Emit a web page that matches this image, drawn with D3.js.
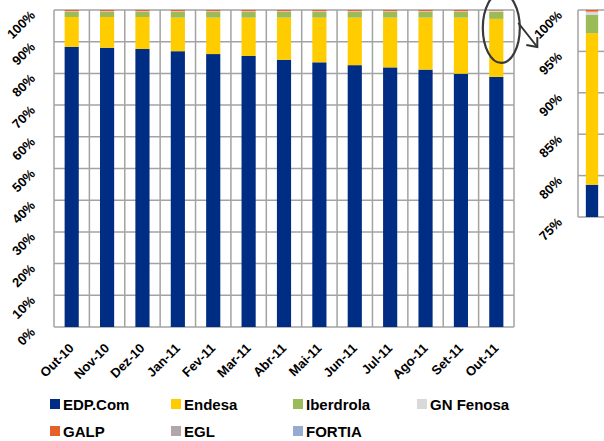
<!DOCTYPE html>
<html>
<head>
<meta charset="utf-8">
<script src="https://cdnjs.cloudflare.com/ajax/libs/d3/7.8.5/d3.min.js"></script>
<style>
  body { margin: 0; background: #fff; }
  svg { display: block; font-family: "Liberation Sans", Arial, sans-serif; }
</style>
</head>
<body>
<div id="chart"></div>
<script>
// categories and series (% share)
let months = ["Out-10", "Nov-10", "Dez-10", "Jan-11", "Fev-11", "Mar-11", "Abr-11",
              "Mai-11", "Jun-11", "Jul-11", "Ago-11", "Set-11", "Out-11"];
let edp       = [88.4, 88.1, 87.7, 87.0, 86.1, 85.5, 84.3, 83.5, 82.6, 81.9, 81.2, 79.9, 78.9];
let endesa    = [9.4, 9.7, 10.1, 10.6, 11.5, 12.1, 13.3, 14.1, 15.0, 15.7, 16.4, 17.7, 18.3];
let iberdrola = [1.6, 1.6, 1.6, 1.8, 1.8, 1.8, 1.8, 1.8, 1.8, 1.8, 1.8, 1.8, 2.2];
let gnFenosa  = [0.2, 0.2, 0.2, 0.2, 0.2, 0.2, 0.2, 0.2, 0.2, 0.2, 0.2, 0.2, 0.4];
let galp      = [0.4, 0.4, 0.4, 0.4, 0.4, 0.4, 0.4, 0.4, 0.4, 0.4, 0.4, 0.4, 0.2];
let egl       = [0, 0, 0, 0, 0, 0, 0, 0, 0, 0, 0, 0, 0];
let fortia    = [0, 0, 0, 0, 0, 0, 0, 0, 0, 0, 0, 0, 0];

let seriesNames = ["EDP.Com", "Endesa", "Iberdrola", "GN Fenosa", "GALP", "EGL", "FORTIA"];
let seriesVals = [edp, endesa, iberdrola, gnFenosa, galp, egl, fortia];
let colors = ["#002D84", "#FFCC00", "#9BBB59", "#D9D9D9", "#E5612A", "#B1A7A7", "#95ABD2"];

let yTicks = [0, 10, 20, 30, 40, 50, 60, 70, 80, 90, 100];
let insetTicks = [75, 80, 85, 90, 95, 100];

let dim = { width: 604, height: 441 };
let plot = { left: 54, right: 514, top: 10, bottom: 327 };
let inset = { left: 578, right: 606, top: 10, bottom: 217 };

let svg = d3.select("#chart").append("svg")
    .attr("width", dim.width)
    .attr("height", dim.height);

let rows = months.map((m, i) => {
    let r = { month: m };
    seriesNames.forEach((s, j) => r[s] = seriesVals[j][i]);
    return r;
});
let stacked = d3.stack().keys(seriesNames)(rows);

let gridColor = "#A3A3A3";

// ---- main chart
let x = d3.scaleBand()
    .domain(months)
    .range([plot.left, plot.right])
    .paddingInner(0.6)
    .paddingOuter(0.3);

let y = d3.scaleLinear()
    .domain([0, 100])
    .range([plot.bottom, plot.top]);

let grid = svg.append("g");
grid.selectAll("line.h")
    .data(yTicks)
    .join("line")
    .attr("x1", plot.left).attr("x2", plot.right)
    .attr("y1", d => y(d)).attr("y2", d => y(d))
    .attr("stroke", gridColor).attr("stroke-width", 1.5);

grid.selectAll("line.v")
    .data(d3.range(months.length + 1))
    .join("line")
    .attr("x1", i => plot.left + i * x.step())
    .attr("x2", i => plot.left + i * x.step())
    .attr("y1", plot.top).attr("y2", plot.bottom)
    .attr("stroke", gridColor).attr("stroke-width", 1.5);

svg.append("g")
    .selectAll("g")
    .data(stacked)
    .join("g")
    .attr("fill", (d, i) => colors[i])
    .selectAll("rect")
    .data(d => d)
    .join("rect")
    .attr("x", d => x(d.data.month))
    .attr("width", x.bandwidth())
    .attr("y", d => y(d[1]))
    .attr("height", d => y(d[0]) - y(d[1]));

svg.append("g")
    .selectAll("text")
    .data(yTicks)
    .join("text")
    .attr("transform", d => `translate(${plot.left - 18},${y(d) + 6}) rotate(-45)`)
    .attr("text-anchor", "end")
    .attr("font-size", 13)
    .attr("font-weight", "bold")
    .text(d => d + "%");

svg.append("g")
    .selectAll("text")
    .data(months)
    .join("text")
    .attr("transform", d => `translate(${x(d) + x.bandwidth() / 2 + 3},${plot.bottom + 22}) rotate(-45)`)
    .attr("text-anchor", "end")
    .attr("font-size", 13)
    .attr("font-weight", "bold")
    .text(d => d);

// ---- inset (zoom on last month)
let last = rows.slice(-1);
let lastStack = d3.stack().keys(seriesNames)(last);

let xi = d3.scaleBand()
    .domain([last[0].month])
    .range([inset.left, inset.right])
    .paddingInner(0.56)
    .paddingOuter(0.28);

let yi = d3.scaleLinear()
    .domain([75, 100])
    .range([inset.bottom, inset.top]);

let ig = svg.append("g");
ig.selectAll("line")
    .data(insetTicks.slice(1))
    .join("line")
    .attr("x1", inset.left).attr("x2", inset.right)
    .attr("y1", d => yi(d)).attr("y2", d => yi(d))
    .attr("stroke", gridColor).attr("stroke-width", 1.5);
ig.append("line")
    .attr("x1", inset.left).attr("x2", inset.left)
    .attr("y1", inset.top).attr("y2", inset.bottom)
    .attr("stroke", gridColor).attr("stroke-width", 1.5);
ig.append("line")
    .attr("x1", inset.left).attr("x2", inset.right)
    .attr("y1", inset.bottom).attr("y2", inset.bottom)
    .attr("stroke", gridColor).attr("stroke-width", 1.5);

ig.append("g")
    .selectAll("rect")
    .data(lastStack)
    .join("rect")
    .attr("fill", (d, i) => colors[i])
    .attr("x", xi(last[0].month))
    .attr("width", xi.bandwidth())
    .attr("y", d => yi(Math.min(100, d[0][1])))
    .attr("height", d => {
        let lo = Math.max(75, d[0][0]);
        let hi = Math.min(100, d[0][1]);
        return hi > lo ? yi(lo) - yi(hi) : 0;
    });

ig.selectAll("text")
    .data(insetTicks)
    .join("text")
    .attr("transform", d => `translate(${inset.left - 15},${yi(d) + 6}) rotate(-45)`)
    .attr("text-anchor", "end")
    .attr("font-size", 13)
    .attr("font-weight", "bold")
    .text(d => d + "%");

// ---- callout ellipse + arrow
let lastX = x(months[months.length - 1]) + x.bandwidth() / 2;
svg.append("ellipse")
    .attr("cx", lastX + 5).attr("cy", y(97.5) + 10)
    .attr("rx", 18.5).attr("ry", 35)
    .attr("fill", "none")
    .attr("stroke", "#3a3a3a")
    .attr("stroke-width", 2.2);

svg.append("path")
    .attr("d", `M${lastX + 22},23 Q${lastX + 30},33 ${lastX + 41},47`)
    .attr("fill", "none").attr("stroke", "#333").attr("stroke-width", 2);
svg.append("path")
    .attr("d", `M${lastX + 30},45 L${lastX + 41},47 L${lastX + 41},37`)
    .attr("fill", "none").attr("stroke", "#333").attr("stroke-width", 2);

// ---- legend
let legCols = [50, 171, 293, 417];
let legRows = [399, 426];
let legend = svg.append("g")
    .selectAll("g")
    .data(seriesNames)
    .join("g")
    .attr("transform", (d, i) => `translate(${legCols[i % 4]},${legRows[Math.floor(i / 4)]})`);
legend.append("rect")
    .attr("width", 10).attr("height", 10)
    .attr("fill", (d, i) => colors[i]);
legend.append("text")
    .attr("x", 13).attr("y", 11)
    .attr("font-size", 15)
    .attr("font-weight", "bold")
    .text(d => d);
</script>
</body>
</html>
